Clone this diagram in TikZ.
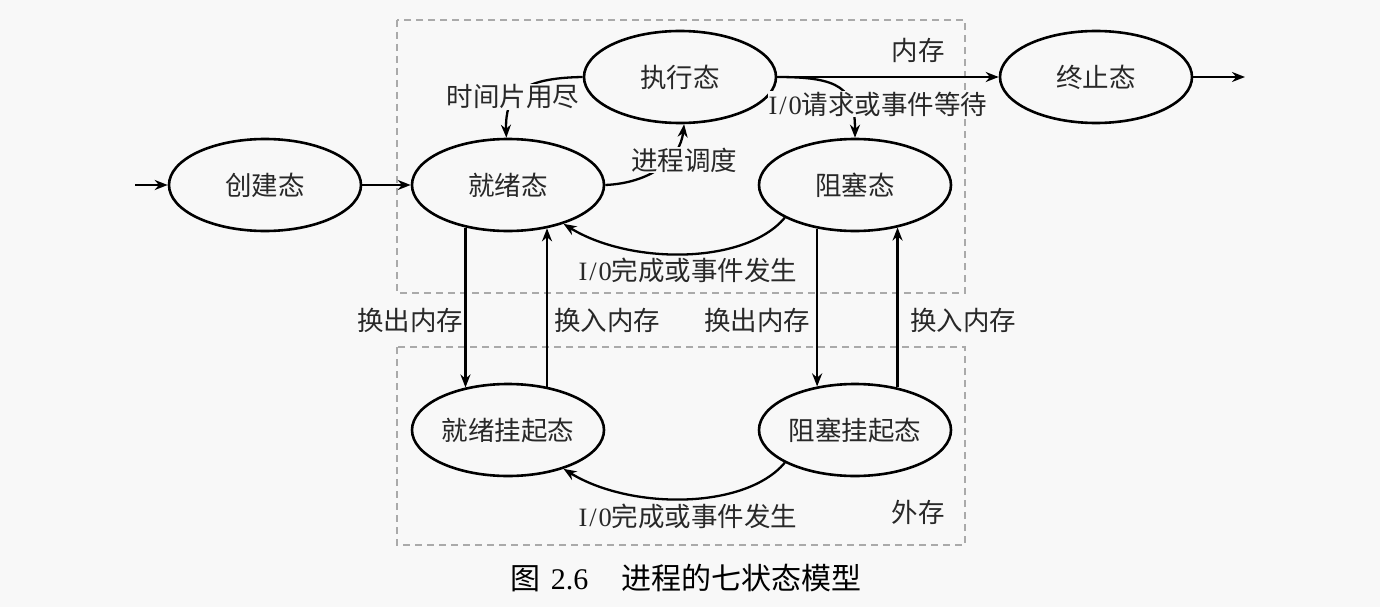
\documentclass[tikz,border=0pt]{standalone}
\usepackage{fontspec}
\setmainfont{Liberation Serif}
\newfontfamily\cjk{Noto Sans CJK SC}
\usetikzlibrary{shapes.geometric,arrows.meta}
\definecolor{bg}{RGB}{248,248,248}
\definecolor{boxgrey}{RGB}{170,170,170}
\definecolor{ink}{RGB}{40,40,40}
\begin{document}
\begin{tikzpicture}[x=1pt,y=-1pt,
  state/.style={ellipse,draw,line width=2.6pt,minimum width=192pt,minimum height=92pt,inner sep=0pt,
    font=\cjk\fontsize{26.5}{30}\selectfont,text=ink},
  conn/.style={line width=2.3pt,-{Stealth[length=13pt,width=10pt]}},
  lab/.style={font=\cjk\fontsize{26.5}{30}\selectfont,text=ink,inner sep=1pt},
  region/.style={draw=boxgrey,line width=1.6pt,dash pattern=on 7pt off 5pt}]
\fill[bg] (0,0) rectangle (1380,607);
\useasboundingbox (0,0) rectangle (1380,607);
% memory regions
\draw[region] (397,20) rectangle (965,293);
\draw[region] (397,347) rectangle (965,545);
% states
\node[state] (create) at (265,185) {创建态};
\node[state] (ready)  at (508,185) {就绪态};
\node[state] (run)    at (680,77)  {执行态};
\node[state] (block)  at (855,185) {阻塞态};
\node[state] (term)   at (1096,77) {终止态};
\node[state] (rsusp)  at (508,430) {就绪挂起态};
\node[state] (bsusp)  at (855,430) {阻塞挂起态};
\coordinate (in)  at (135,185);
\coordinate (out) at (1245,77);
% straight transitions
\draw[conn] (in) -- (create);
\draw[conn] (create) -- (ready);
\draw[conn] (run) -- (term);
\draw[conn] (term) -- (out);
\draw[conn] (ready.225) -- (rsusp.135);
\draw[conn] (rsusp.48) -- (ready.-48);
\draw[conn] (block.229) -- (bsusp.131);
\draw[conn] (bsusp.45) -- (block.-45);
% curved transitions
\draw[conn] (run.west) .. controls (520,78) and (505,95) .. (ready.92);
\draw[conn] (ready.east) .. controls (650,183) and (680,160) .. (run.275);
\draw[conn] (run.east) .. controls (840,77) and (855,88) .. (block.north);
\draw[conn] (block.205) .. controls (745,265) and (630,265) .. (ready.-35);
\draw[conn] (bsusp.205) .. controls (745,510) and (630,510) .. (rsusp.-35);
% labels
\node[lab,fill=bg] (ltime) at (513,97) {时间片用尽};
\node[lab,fill=bg] (lsched) at (684,160) {进程调度};
\node[lab,fill=bg] (lwait) at (878,104) {{\rmfamily I\kern2pt/\kern2pt0}请求或事件等待};
\node[lab,fill=bg] (ldone1) at (688,270) {{\rmfamily I\kern2pt/\kern2pt0}完成或事件发生};
\node[lab,fill=bg] (ldone2) at (688,516) {{\rmfamily I\kern2pt/\kern2pt0}完成或事件发生};
\node[lab] (lout1) at (410,320) {换出内存};
\node[lab] (lin1)  at (607,320) {换入内存};
\node[lab] (lout2) at (757,320) {换出内存};
\node[lab] (lin2)  at (963,320) {换入内存};
\node[lab] (lmem)  at (918,50)  {内存};
\node[lab] (lext)  at (918,512) {外存};
% caption
\node[font=\fontsize{30}{34}\selectfont,text=black] (cap) at (686,578)
  {{\cjk 图}\kern10pt 2.6\kern33pt{\cjk 进程的七状态模型}};
\end{tikzpicture}
\end{document}
